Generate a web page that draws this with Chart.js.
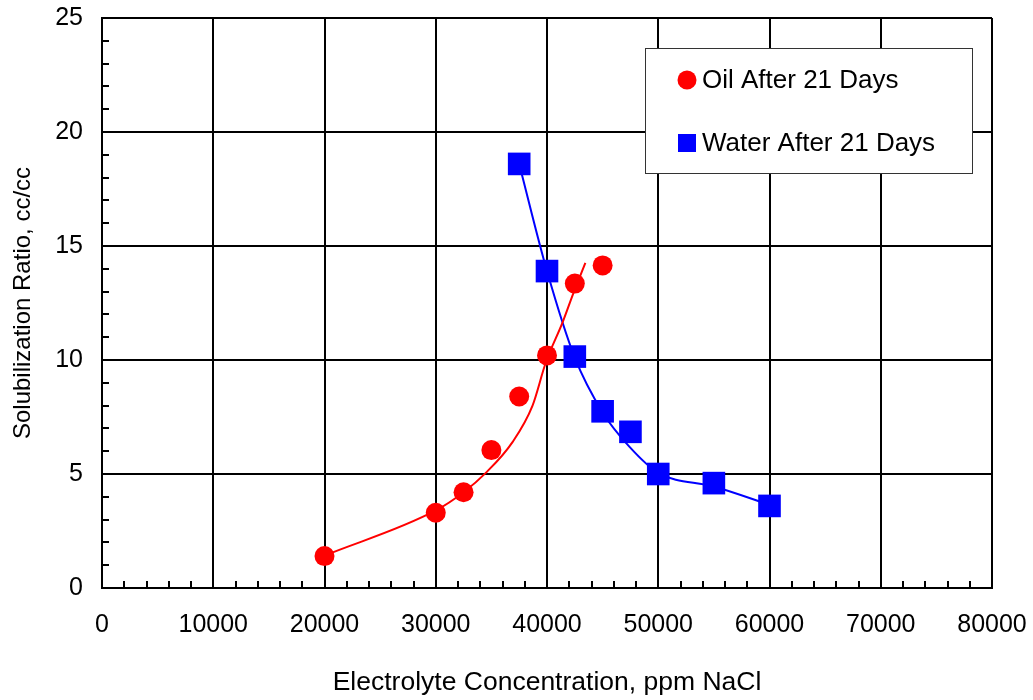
<!DOCTYPE html>
<html>
<head>
<meta charset="utf-8">
<script src="https://cdn.jsdelivr.net/npm/chart.js@4.4.0/dist/chart.umd.min.js"></script>
<style>
  html, body { margin: 0; padding: 0; background: #fff; }
  #wrap { width: 1033px; height: 700px; position: relative; }
</style>
</head>
<body>
<div id="wrap"><canvas id="solChart"></canvas></div>
<script>
// measured points
const oilConc = [20000, 30000, 32500, 35000, 37500, 40000, 42500, 45000];
const oilRatio = [1.4, 3.3, 4.2, 6.05, 8.4, 10.2, 13.35, 14.15];
const waterConc = [37500, 40000, 42500, 45000, 47500, 50000, 55000, 60000];
const waterRatio = [18.6, 13.9, 10.15, 7.75, 6.85, 5.0, 4.6, 3.6];

// trend lines
const oilFitConc = [20000, 30000, 32500, 34500, 36900, 38700, 39900, 41400, 42400, 43450];
const oilFitRatio = [1.42, 3.4, 4.2, 5.05, 6.4, 8.0, 9.9, 11.65, 12.97, 14.26];
const waterFitConc = [37500, 40000, 42500, 45000, 47400, 50000, 55000, 60000];
const waterFitRatio = [18.6, 13.9, 10.1, 7.7, 6.2, 5.05, 4.45, 3.65];

const xTicks = [0, 10000, 20000, 30000, 40000, 50000, 60000, 70000, 80000];
const yTicks = [0, 5, 10, 15, 20, 25];
const xMinorStep = 2000;
const yMinorStep = 1;

const FONT = '"Liberation Sans", Arial, sans-serif';

function pts(xs, ys) {
  return xs.map((x, i) => ({ x: x, y: ys[i] }));
}

// small inside ticks on both axes
const minorTicks = {
  id: 'minorTicks',
  afterDraw(chart) {
    const ctx = chart.ctx;
    const xs = chart.scales.x, ys = chart.scales.y;
    const area = chart.chartArea;
    ctx.save();
    ctx.strokeStyle = '#000';
    ctx.lineWidth = 2;
    ctx.beginPath();
    for (let v = xs.min; v <= xs.max; v += xMinorStep) {
      const px = Math.round(xs.getPixelForValue(v));
      ctx.moveTo(px, area.bottom);
      ctx.lineTo(px, area.bottom - 7);
    }
    for (let v = ys.min; v <= ys.max; v += yMinorStep) {
      const py = Math.round(ys.getPixelForValue(v));
      ctx.moveTo(area.left, py);
      ctx.lineTo(area.left + 7, py);
    }
    ctx.stroke();
    ctx.restore();
  }
};

// boxed legend inside the plot
const boxLegend = {
  id: 'boxLegend',
  afterDraw(chart) {
    const ctx = chart.ctx;
    const area = chart.chartArea;
    const left = area.left + 543, top = area.top + 30;
    const w = 327, h = 125;
    ctx.save();
    ctx.fillStyle = '#fff';
    ctx.fillRect(left, top, w, h);
    ctx.strokeStyle = '#333';
    ctx.lineWidth = 1;
    ctx.strokeRect(left + 0.5, top + 0.5, w, h);

    const items = chart.data.datasets.filter(d => d.inLegend);
    items.forEach((d, i) => {
      const cy = top + 32 + i * 63;
      const cx = left + 42;
      ctx.fillStyle = d.backgroundColor;
      if (d.pointStyle === 'rect') {
        ctx.fillRect(cx - 9, cy - 9, 18, 18);
      } else {
        ctx.beginPath();
        ctx.arc(cx, cy, 9.5, 0, Math.PI * 2);
        ctx.fill();
      }
      ctx.fillStyle = '#000';
      ctx.font = '26px ' + FONT;
      ctx.textBaseline = 'middle';
      ctx.fillText(d.label, cx + 15, cy + 1);
    });
    ctx.restore();
  }
};

const ctx = document.getElementById('solChart').getContext('2d');
new Chart(ctx, {
  type: 'scatter',
  data: {
    datasets: [
      {
        label: 'Oil After 21 Days',
        inLegend: true,
        data: pts(oilConc, oilRatio),
        pointStyle: 'circle',
        pointRadius: 10,
        pointHoverRadius: 10,
        backgroundColor: '#ff0000',
        borderColor: '#ff0000',
        borderWidth: 0,
        showLine: false,
        order: 1
      },
      {
        label: 'Water After 21 Days',
        inLegend: true,
        data: pts(waterConc, waterRatio),
        pointStyle: 'rect',
        pointRadius: 16,
        pointHoverRadius: 16,
        backgroundColor: '#0000ff',
        borderColor: '#0000ff',
        borderWidth: 0,
        showLine: false,
        order: 2
      },
      {
        label: 'Oil trend',
        data: pts(oilFitConc, oilFitRatio),
        showLine: true,
        pointRadius: 0,
        borderColor: '#ff0000',
        borderWidth: 2,
        cubicInterpolationMode: 'monotone',
        order: 3
      },
      {
        label: 'Water trend',
        data: pts(waterFitConc, waterFitRatio),
        showLine: true,
        pointRadius: 0,
        borderColor: '#0000ff',
        borderWidth: 2,
        cubicInterpolationMode: 'monotone',
        order: 4
      }
    ]
  },
  options: {
    responsive: true,
    maintainAspectRatio: false,
    animation: false,
    layout: {
      padding: { top: 18, right: 41, left: 0, bottom: 0 }
    },
    scales: {
      x: {
        type: 'linear',
        min: 0,
        max: 80000,
        afterBuildTicks: s => { s.ticks = xTicks.map(v => ({ value: v })); },
        afterFit: s => { s.height = 112; s.paddingLeft = 0; s.paddingRight = 0; },
        grid: { color: '#000', lineWidth: 2, drawTicks: false },
        border: { display: true, color: '#000', width: 2 },
        ticks: {
          padding: 22,
          color: '#000',
          font: { family: FONT, size: 25 },
          maxRotation: 0,
          callback: v => String(v)
        },
        title: {
          display: true,
          text: 'Electrolyte Concentration, ppm NaCl',
          color: '#000',
          font: { family: FONT, size: 26.5 },
          padding: { top: 0, bottom: 1 }
        }
      },
      y: {
        type: 'linear',
        min: 0,
        max: 25,
        afterBuildTicks: s => { s.ticks = yTicks.map(v => ({ value: v })); },
        afterFit: s => { s.width = 102; s.paddingTop = 0; s.paddingBottom = 0; },
        grid: { color: '#000', lineWidth: 2, drawTicks: false },
        border: { display: true, color: '#000', width: 2 },
        ticks: {
          padding: 19,
          color: '#000',
          font: { family: FONT, size: 25 },
          callback: v => String(v)
        },
        title: {
          display: true,
          text: 'Solubilization Ratio, cc/cc',
          color: '#000',
          font: { family: FONT, size: 24 },
          padding: { top: 9, bottom: 0 }
        }
      }
    },
    plugins: {
      legend: { display: false },
      tooltip: { enabled: false }
    }
  },
  plugins: [minorTicks, boxLegend]
});
</script>
</body>
</html>
